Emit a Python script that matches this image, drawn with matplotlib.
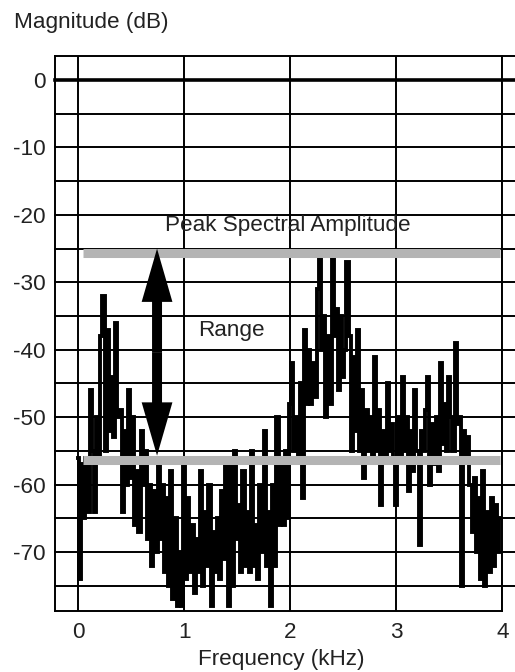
import matplotlib.pyplot as plt
import numpy as np

# spectrum magnitude in dB, one reading every 0.02 kHz from 0 kHz
magnitude_db = [
    -56, -74, -57, -65, -56, -64, -46, -55, -64, -50,
    -56, -38, -32, -55, -37, -52, -44, -53, -36, -50,
    -49, -64, -52, -60, -46, -59, -50, -66, -58, -67,
    -52, -60, -55, -68, -60, -72, -61, -70, -57, -68,
    -60, -73, -62, -75, -58, -77, -65, -78, -70, -78,
    -57, -74, -62, -73, -66, -76, -68, -73, -58, -75,
    -64, -72, -60, -78, -67, -73, -65, -74, -61, -71,
    -57, -78, -56, -75, -55, -68, -63, -73, -58, -72,
    -64, -73, -55, -72, -66, -74, -60, -70, -52, -72,
    -64, -78, -60, -72, -50, -66, -56, -66, -55, -65,
    -48, -42, -55, -50, -56, -45, -62, -37, -48, -40,
    -48, -42, -47, -31, -26, -40, -35, -50, -38, -48,
    -26, -38, -34, -46, -35, -44, -40, -27, -38, -55,
    -41, -52, -37, -55, -46, -59, -49, -55, -50, -56,
    -41, -55, -49, -63, -52, -56, -45, -55, -51, -56,
    -63, -50, -56, -44, -55, -50, -61, -52, -58, -46,
    -55, -69, -52, -55, -49, -44, -60, -51, -57, -50,
    -58, -42, -54, -48, -55, -44, -50, -55, -39, -51,
    -50, -75, -52, -56, -53, -60, -67, -59, -70, -62,
    -74, -58, -75, -64, -73, -62, -72, -63, -70, -65,
]
freq_step_khz = 0.02

peak_level_db = -25.6     # "Peak Spectral Amplitude" bar
floor_level_db = -56.4    # lower bar
bar_span_khz = [0.047, 3.975]
range_arrow_khz = 0.745
range_top_db = -25.0
range_bottom_db = -55.7

x_ticks = [0, 1, 2, 3, 4]
y_ticks = [0, -10, -20, -30, -40, -50, -60, -70]
grid_db = list(range(-75, 5, 5))

TXT = '#222222'
FS = 16.2


def main():
    plt.rcParams['font.family'] = ['Liberation Sans', 'DejaVu Sans']
    plt.rcParams['axes.unicode_minus'] = False

    freq = np.arange(len(magnitude_db)) * freq_step_khz

    fig = plt.figure(figsize=(5.15, 6.72), dpi=100)
    ax = fig.add_axes([0.1074, 0.0912, 0.868, 0.8254])
    ylim = (-78.7, 3.56)
    ax.set_xlim(-0.214, 4.0)
    ax.set_ylim(*ylim)

    # grid: verticals every kHz, horizontals every 5 dB running past the frame
    for f in x_ticks:
        ax.axvline(f, color='black', lw=1.4, zorder=1)
    for y in grid_db + [ylim[1]]:
        ax.axhline(y, xmin=0, xmax=1.03, color='black',
                   lw=2.6 if y == 0 else 1.4, clip_on=False, zorder=1)

    ax.plot(freq, magnitude_db, color='black', lw=2.8, drawstyle='steps-mid',
            solid_joinstyle='miter', zorder=2)

    ax.hlines([peak_level_db, floor_level_db], bar_span_khz[0], bar_span_khz[1],
              colors='#b4b4b4', lw=6.5, zorder=3)

    # double headed "Range" arrow, built from two single arrows
    mid = (range_top_db + range_bottom_db) / 2
    for tip in (range_top_db, range_bottom_db):
        ax.arrow(range_arrow_khz, mid, 0, tip - mid, width=0.094,
                 head_width=0.29, head_length=7.9, length_includes_head=True,
                 color='black', lw=0, zorder=4)

    ax.text(1.98, -22.4, "Peak Spectral Amplitude", ha='center', va='baseline',
            fontsize=FS, color=TXT, zorder=5)
    ax.text(1.448, -38.0, "Range", ha='center', va='baseline',
            fontsize=FS, color=TXT, zorder=5)

    ax.set_xticks(x_ticks)
    ax.set_yticks(y_ticks)
    ax.tick_params(length=0, labelsize=FS, labelcolor=TXT)
    ax.tick_params(axis='x', pad=8)
    ax.tick_params(axis='y', pad=7)
    for side, sp in ax.spines.items():
        sp.set_linewidth(1.4)
    ax.spines['top'].set_visible(False)

    fig.text(14 / 515, 1 - 28.3 / 672, "Magnitude (dB)", ha='left', va='baseline',
             fontsize=FS, color=TXT)
    fig.text(281 / 515, 1 - 665 / 672, "Frequency (kHz)", ha='center', va='baseline',
             fontsize=FS, color=TXT)

    fig.savefig("out.png", dpi=100)


if __name__ == "__main__":
    main()
